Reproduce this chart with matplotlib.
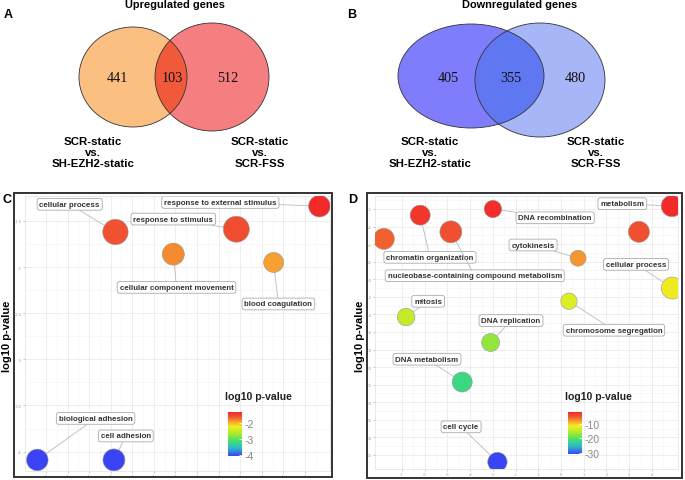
import numpy as np
import matplotlib
matplotlib.use('Agg')
import matplotlib.pyplot as plt
from matplotlib.patches import Ellipse, Rectangle
from matplotlib.colors import LinearSegmentedColormap, Normalize
import matplotlib.cm as cm

plt.rcParams['font.family'] = ['Liberation Sans', 'DejaVu Sans']

# Venn counts: only-left, both, only-right
up_counts = [441, 103, 512]
down_counts = [405, 355, 480]
set_left = 'SCR-static\nvs.\nSH-EZH2-static'
set_right = 'SCR-static\nvs.\nSCR-FSS'

# panel C: GO terms of upregulated genes
c_terms = ['cellular process', 'response to stimulus', 'response to external stimulus',
           'cellular component movement', 'blood coagulation', 'biological adhesion',
           'cell adhesion']
c_x = [-2.78, 2.82, 6.67, -0.10, 4.55, -6.40, -2.85]
c_pval = [-1.62, -1.59, -1.34, -1.86, -1.95, -4.09, -4.09]
c_size = [12.7, 13.0, 10.8, 11.0, 10.0, 10.8, 11.0]
c_lab_x = [-4.9, -0.1, 2.08, 0.05, 4.77, -3.7, -2.3]
c_lab_y = [-1.32, -1.48, -1.30, -2.22, -2.40, -3.64, -3.83]

# panel D: GO terms of downregulated genes
d_terms = ['metabolism', 'DNA recombination', 'chromatin organization',
           'nucleobase-containing compound metabolism', '', '',
           'cytokinesis', 'cellular process', 'chromosome segregation', 'mitosis',
           'DNA replication', 'DNA metabolism', 'cell cycle']
d_x = [4.88, -3.0, -6.2, -4.85, -7.8, 3.43, 0.75, 4.9, 0.35, -6.82, -3.1, -4.35, -2.8]
d_pval = [-1.66, -2.0, -2.7, -4.6, -5.4, -4.6, -7.6, -11.0, -12.5, -14.3, -17.2, -21.7, -30.8]
d_size = [10.7, 8.7, 10.0, 11.0, 10.5, 10.5, 8.0, 11.0, 8.2, 8.8, 9.0, 10.0, 9.7]
d_lab_x = [2.7, -0.26, -5.77, -3.8, None, None, -1.23, 3.3, 2.33, -5.85, -2.2, -5.9, -4.4]
d_lab_y = [-1.4, -3.0, -7.5, -9.6, None, None, -6.1, -8.3, -15.8, -12.5, -14.7, -19.1, -26.8]

W, H = 685, 481
fig = plt.figure(figsize=(W / 100, H / 100), dpi=100)


def box(x0, y0, x1, y1):
    return [x0 / W, 1 - y1 / H, (x1 - x0) / W, (y1 - y0) / H]


# ---- Venn diagrams (pixel coordinates) ----
vax = fig.add_axes([0, 0, 1, 1])
vax.set_xlim(0, W)
vax.set_ylim(H, 0)
vax.axis('off')


def venn(e1, e2, cols, counts, pos, title, tx, lx):
    p1 = Ellipse(e1[:2], 2 * e1[2], 2 * e1[3], fc=cols[0], ec='none')
    p2 = Ellipse(e2[:2], 2 * e2[2], 2 * e2[3], fc=cols[1], ec='none')
    vax.add_patch(p1)
    vax.add_patch(p2)
    inter = Ellipse(e1[:2], 2 * e1[2], 2 * e1[3], fc=cols[2], ec='none')
    vax.add_patch(inter)
    inter.set_clip_path(p2)
    for e in (e1, e2):
        vax.add_patch(Ellipse(e[:2], 2 * e[2], 2 * e[3], fill=False, ec='#333333', lw=0.6))
    for n, px in zip(counts, pos):
        vax.text(px, 78, str(n), ha='center', va='center', fontsize=10.2,
                 family='Liberation Serif', color='#111111')
    vax.text(tx, 5, title, ha='center', va='center', fontsize=7.9, weight='bold')
    vax.text(lx[0], 137, set_left, ha='center', va='top', fontsize=8.2, weight='bold',
             linespacing=1.12)
    vax.text(lx[1], 137, set_right, ha='center', va='top', fontsize=8.2, weight='bold',
             linespacing=1.12)


venn((133, 78, 54, 50), (212, 78, 57, 54), ['#FBBF82', '#F47E80', '#F05A3A'],
     up_counts, [117, 172, 228], 'Upregulated genes', 175, [93, 260])
venn((471, 77, 73, 52), (540, 81, 65, 57), ['#7F7DFC', '#A6B6F6', '#5F78F2'],
     down_counts, [448, 511, 575], 'Downregulated genes', 520, [430, 596])

for letter, x, y in [('A', 8, 15), ('B', 352, 15), ('C', 7, 200), ('D', 353, 200)]:
    fig.text(x / W, 1 - y / H, letter, ha='center', va='center', fontsize=9, weight='bold')

# ---- bubble plots ----
cmap = LinearSegmentedColormap.from_list('revigo', [
    (0.0, '#3A44F5'), (0.18, '#2FB8C8'), (0.34, '#3FE070'),
    (0.5, '#A8E830'), (0.67, '#F0F020'), (0.78, '#F5A030'),
    (0.9, '#F05030'), (1.0, '#F22A2A')])


def bubbles(frame, inner, cbar, xs, ps, sz, terms, lx, ly, xlim, ylim, xt, yt, cticks):
    fig.add_artist(Rectangle((frame[0] / W, 1 - frame[3] / H), (frame[2] - frame[0]) / W,
                             (frame[3] - frame[1]) / H, transform=fig.transFigure,
                             fill=False, ec='#333333', lw=1.4))
    ax = fig.add_axes(box(*inner))
    norm = Normalize(min(ps), max(ps))
    ax.scatter(xs, ps, s=(2 * np.array(sz) * 0.72) ** 2, c=ps, cmap=cmap, norm=norm,
               edgecolors='#999999', linewidths=0.4, zorder=3)
    for t, x, y, tx, ty in zip(terms, xs, ps, lx, ly):
        if not t:
            continue
        ax.annotate(t, (x, y), (tx, ty), ha='center', va='center', fontsize=5.7,
                    weight='bold', color='#333333', zorder=2,
                    bbox=dict(boxstyle='round,pad=0.3', fc='white', ec='#AAAAAA', lw=0.6),
                    arrowprops=dict(arrowstyle='-', color='#BBBBBB', lw=0.6,
                                    shrinkA=0, shrinkB=0))
    ax.set_xlim(*xlim)
    ax.set_ylim(*ylim)
    ax.set_xticks(xt)
    ax.set_yticks(yt)
    ax.set_xticklabels([f'{v:g}' for v in xt])
    ax.set_yticklabels([f'{v:g}' for v in yt])
    ax.set_xticks([v + (xt[1] - xt[0]) / 2 for v in xt], minor=True)
    ax.set_yticks([v + (yt[1] - yt[0]) / 2 for v in yt], minor=True)
    ax.tick_params(labelsize=3, colors='#999999', length=1.5, width=0.4, pad=1)
    ax.tick_params(which='minor', length=0)
    ax.grid(True, which='major', color='#E8E8E8', lw=0.5)
    ax.grid(True, which='minor', color='#F4F4F4', lw=0.4)
    ax.set_axisbelow(True)
    for s in ax.spines.values():
        s.set_color('#E0E0E0')
        s.set_linewidth(0.5)
    fig.text((frame[0] - 7) / W, 1 - (frame[1] + frame[3]) / 2 / H, 'log10 p-value',
             rotation=90, ha='center', va='center', fontsize=8, weight='bold')
    cax = fig.add_axes(box(*cbar))
    cb = fig.colorbar(cm.ScalarMappable(norm=norm, cmap=cmap), cax=cax)
    cb.outline.set_visible(False)
    cb.set_ticks(cticks)
    cb.set_ticklabels([f'{v:g}' for v in cticks])
    cax.tick_params(labelsize=7.5, colors='white', labelcolor='#888888', length=2.5,
                    width=0.6, direction='in', pad=1.5)
    fig.text((cbar[0] - 3) / W, 1 - 397 / H, 'log10 p-value', ha='left', va='center',
             fontsize=7.6, weight='bold', color='#222222')
    return ax


bubbles((14, 194, 332, 478), (25, 197, 330, 472), (228, 413, 242, 457),
        c_x, c_pval, c_size, c_terms, c_lab_x, c_lab_y,
        (-6.97, 7.16), (-4.21, -1.23), list(range(-6, 7)),
        [-4, -3.5, -3, -2.5, -2, -1.5], [-2, -3, -4])

bubbles((367, 194, 682, 479), (375, 197, 678, 470), (568, 413, 582, 455),
        d_x, d_pval, d_size, d_terms, d_lab_x, d_lab_y,
        (-8.19, 5.15), (-31.6, -0.52), list(range(-7, 5)),
        list(range(-30, -1, 2)), [-10, -20, -30])

fig.savefig('out.png', dpi=100)
